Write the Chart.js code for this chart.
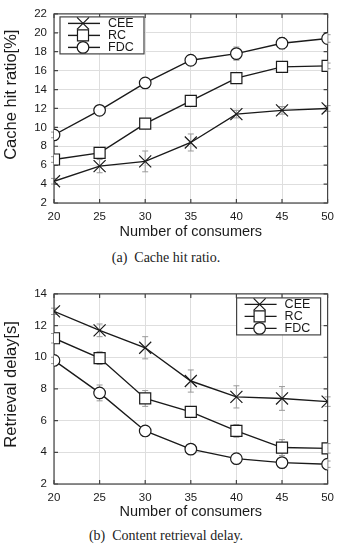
<!DOCTYPE html>
<html>
<head>
<meta charset="utf-8">
<script src="https://cdn.jsdelivr.net/npm/chart.js@4.4.1/dist/chart.umd.min.js"></script>
<style>
  body { margin: 0; background: #fff; }
  #wrap { position: relative; width: 341px; height: 550px; }
  .box { position: absolute; left: 0; width: 341px; height: 245px; }
  .cap { position: absolute; left: 0; width: 332px; text-align: center;
         font-family: "Liberation Serif", serif; font-size: 14px; color: #222; }
</style>
</head>
<body>
<div id="wrap">
  <div class="box" style="top:0"><canvas id="hitChart"></canvas></div>
  <div class="cap" style="top:250px">(a)&nbsp;&nbsp;Cache hit ratio.</div>
  <div class="box" style="top:280px"><canvas id="delayChart"></canvas></div>
  <div class="cap" style="top:528px">(b)&nbsp;&nbsp;Content retrieval delay.</div>
</div>
<script>
// Charts.js

var consumers = [20, 25, 30, 35, 40, 45, 50];
var seriesNames = ['CEE', 'RC', 'FDC'];
var markers = ['crossRot', 'rect', 'circle'];

// cache hit ratio [%]
var hitCEE = [4.3, 5.9, 6.4, 8.4, 11.4, 11.8, 12.0];
var hitRC = [6.6, 7.3, 10.4, 12.8, 15.2, 16.4, 16.5];
var hitFDC = [9.2, 11.8, 14.7, 17.1, 17.8, 18.9, 19.4];
var hitErrCEE = [0.3, 0.7, 1.1, 0.9, 0.4, 0.4, 0.3];
var hitErrRC = [0.3, 0.4, 0.4, 0.4, 0.5, 0.5, 0.3];
var hitErrFDC = [0.3, 0.3, 0.4, 0.3, 0.7, 0.6, 0.4];

// retrieval delay [s]
var delayCEE = [12.9, 11.7, 10.6, 8.5, 7.5, 7.4, 7.2];
var delayRC = [11.2, 9.95, 7.4, 6.55, 5.35, 4.3, 4.25];
var delayFDC = [9.8, 7.75, 5.35, 4.2, 3.6, 3.35, 3.25];
var delayErrCEE = [0.2, 0.4, 0.7, 0.7, 0.7, 0.75, 0.3];
var delayErrRC = [0.3, 0.4, 0.5, 0.3, 0.4, 0.5, 0.3];
var delayErrFDC = [0.2, 0.5, 0.3, 0.2, 0.2, 0.3, 0.2];

var FONT = '"Liberation Sans", Arial, sans-serif';
var INK = '#1a1a1a';

var paperPlugin = {
  id: 'paper',
  beforeDatasetsDraw: function (chart, args, opts) {
    var ctx = chart.ctx, a = chart.chartArea;
    var xs = chart.scales.x, ys = chart.scales.y;
    ctx.save();
    // error bars
    ctx.strokeStyle = '#9a9a9a';
    ctx.lineWidth = 1;
    chart.data.datasets.forEach(function (ds, i) {
      var errs = opts.errors[i];
      ds.data.forEach(function (p, j) {
        var x = xs.getPixelForValue(p.x);
        var y1 = ys.getPixelForValue(p.y + errs[j]);
        var y2 = ys.getPixelForValue(p.y - errs[j]);
        ctx.beginPath();
        ctx.moveTo(x, y1); ctx.lineTo(x, y2);
        ctx.moveTo(x - 3, y1); ctx.lineTo(x + 3, y1);
        ctx.moveTo(x - 3, y2); ctx.lineTo(x + 3, y2);
        ctx.stroke();
      });
    });
    // frame + inward ticks
    ctx.strokeStyle = '#444';
    ctx.lineWidth = 1.2;
    ctx.strokeRect(a.left, a.top, a.right - a.left, a.bottom - a.top);
    ctx.beginPath();
    xs.ticks.forEach(function (t) {
      var x = xs.getPixelForValue(t.value);
      ctx.moveTo(x, a.bottom); ctx.lineTo(x, a.bottom - 4);
      ctx.moveTo(x, a.top); ctx.lineTo(x, a.top + 4);
    });
    ys.ticks.forEach(function (t) {
      var y = ys.getPixelForValue(t.value);
      ctx.moveTo(a.left, y); ctx.lineTo(a.left + 4, y);
      ctx.moveTo(a.right, y); ctx.lineTo(a.right - 4, y);
    });
    ctx.stroke();
    ctx.restore();
  },
  afterDatasetsDraw: function (chart, args, opts) {
    var ctx = chart.ctx, a = chart.chartArea;
    var w = 84, h = 37;
    var left = opts.corner === 'left' ? a.left + 6 : a.right - 7 - w;
    var top = a.top + (opts.corner === 'left' ? 3 : 4);
    ctx.save();
    ctx.fillStyle = '#fff';
    ctx.fillRect(left, top, w, h);
    ctx.strokeStyle = '#444';
    ctx.lineWidth = 1.2;
    ctx.strokeRect(left, top, w, h);
    chart.data.datasets.forEach(function (ds, i) {
      var y = top + 6.5 + i * 12;
      ctx.strokeStyle = INK;
      ctx.lineWidth = 1.4;
      ctx.beginPath();
      ctx.moveTo(left + 8, y); ctx.lineTo(left + 40, y);
      ctx.stroke();
      ctx.fillStyle = '#fff';
      ctx.lineWidth = 1.2;
      Chart.helpers.drawPoint(ctx, {
        pointStyle: ds.pointStyle, rotation: 0,
        radius: ds.pointRadius, borderWidth: 1.2
      }, left + 23, y);
      ctx.fillStyle = INK;
      ctx.font = '12.5px ' + FONT;
      ctx.textBaseline = 'middle';
      ctx.fillText(ds.label, left + 48, y + 0.5);
    });
    ctx.restore();
  }
};

function makeChart(id, yTitle, yMin, yMax, values, errors, corner) {
  var datasets = values.map(function (vals, i) {
    return {
      label: seriesNames[i],
      data: consumers.map(function (c, j) { return { x: c, y: vals[j] }; }),
      borderColor: INK,
      borderWidth: 1.4,
      pointStyle: markers[i],
      pointRadius: markers[i] === 'circle' ? 5.8 : (markers[i] === 'rect' ? 7.8 : 8.5),
      pointBorderWidth: 1.2,
      pointBorderColor: INK,
      pointBackgroundColor: '#fff',
      tension: 0
    };
  });
  return new Chart(document.getElementById(id).getContext('2d'), {
    type: 'line',
    data: { datasets: datasets },
    plugins: [paperPlugin],
    options: {
      responsive: true,
      maintainAspectRatio: false,
      animation: false,
      layout: { padding: { top: id === 'hitChart' ? 10 : 11, right: 13, left: 0, bottom: 0 } },
      plugins: {
        legend: { display: false },
        tooltip: { enabled: false },
        paper: { errors: errors, corner: corner }
      },
      scales: {
        x: {
          type: 'linear', min: 20, max: 50,
          afterFit: function (s) { s.height = id === 'hitChart' ? 42 : 41; },
          ticks: { stepSize: 5, padding: 7, color: INK, font: { family: FONT, size: 11.5 } },
          grid: { color: '#dedede', lineWidth: 1, drawTicks: false },
          border: { display: false },
          title: { display: true, text: 'Number of consumers', color: INK,
                   font: { family: FONT, size: 14.5 }, padding: { top: 4, bottom: 4 } }
        },
        y: {
          min: yMin, max: yMax,
          afterFit: function (s) { s.width = 54; },
          ticks: { stepSize: 2, padding: 7, color: INK, font: { family: FONT, size: 11.5 } },
          grid: { color: '#dedede', lineWidth: 1, drawTicks: false },
          border: { display: false },
          title: { display: true, text: yTitle, color: INK,
                   font: { family: FONT, size: 16.5 }, padding: { top: 2, bottom: 2 } }
        }
      }
    }
  });
}

makeChart('hitChart', '      Cache hit ratio[%]', 2, 22,
  [hitCEE, hitRC, hitFDC], [hitErrCEE, hitErrRC, hitErrFDC], 'left');
makeChart('delayChart', '  Retrieval delay[s]', 2, 14,
  [delayCEE, delayRC, delayFDC], [delayErrCEE, delayErrRC, delayErrFDC], 'right');
</script>
</body>
</html>
